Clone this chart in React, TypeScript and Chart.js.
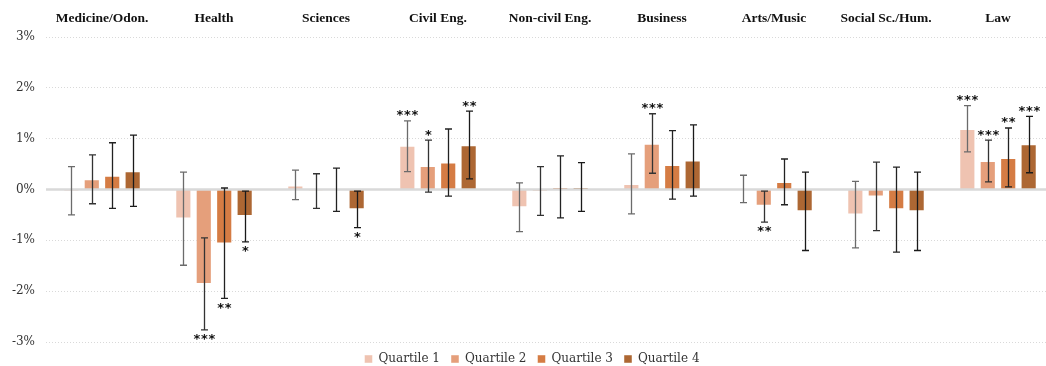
import React, { useEffect, useRef } from "react";
import { Chart, registerables } from "chart.js";

Chart.register(...registerables);

const categories = [
  "Medicine/Odon.",
  "Health",
  "Sciences",
  "Civil Eng.",
  "Non-civil Eng.",
  "Business",
  "Arts/Music",
  "Social Sc./Hum.",
  "Law",
];

const seriesNames = ["Quartile 1", "Quartile 2", "Quartile 3", "Quartile 4"];
const seriesColors = ["#efc3b1", "#e59f7b", "#d57c44", "#ad6733"];
const whiskerColors = ["#6b6b6b", "#333333", "#222222", "#1a1a1a"];

const q1 = [-0.03, -0.57, 0.08, 0.86, -0.35, 0.11, 0.0, -0.49, 1.19];
const q2 = [0.2, -1.86, -0.02, 0.46, -0.03, 0.9, -0.32, -0.14, 0.56];
const q3 = [0.27, -1.06, 0.0, 0.53, 0.05, 0.48, 0.15, -0.39, 0.62];
const q4 = [0.36, -0.52, -0.39, 0.87, 0.05, 0.57, -0.43, -0.43, 0.89];

const q1Hi = [0.45, 0.34, 0.38, 1.35, 0.13, 0.7, 0.28, 0.16, 1.65];
const q1Lo = [-0.5, -1.49, -0.2, 0.35, -0.83, -0.48, -0.26, -1.15, 0.74];
const q2Hi = [0.68, -0.95, 0.31, 0.97, 0.45, 1.49, -0.03, 0.54, 0.97];
const q2Lo = [-0.28, -2.76, -0.37, -0.05, -0.51, 0.32, -0.64, -0.81, 0.15];
const q3Hi = [0.92, 0.03, 0.42, 1.19, 0.66, 1.16, 0.6, 0.44, 1.21];
const q3Lo = [-0.37, -2.14, -0.43, -0.13, -0.56, -0.19, -0.3, -1.23, 0.05];
const q4Hi = [1.07, -0.03, -0.03, 1.54, 0.53, 1.27, 0.34, 0.34, 1.44];
const q4Lo = [-0.33, -1.03, -0.75, 0.21, -0.43, -0.13, -1.2, -1.2, 0.33];

const q1Sig = ["", "", "", "***", "", "", "", "", "***"];
const q2Sig = ["", "***", "", "*", "", "***", "**", "", "***"];
const q3Sig = ["", "**", "", "", "", "", "", "", "**"];
const q4Sig = ["", "*", "*", "**", "", "", "", "", "***"];

const yTicks = [-3, -2, -1, 0, 1, 2, 3];

const values = [q1, q2, q3, q4];
const highs = [q1Hi, q2Hi, q3Hi, q4Hi];
const lows = [q1Lo, q2Lo, q3Lo, q4Lo];
const sigs = [q1Sig, q2Sig, q3Sig, q4Sig];

const errorBarPlugin = {
  id: "errorBars",
  afterDatasetsDraw(chart: any) {
    const { ctx, chartArea } = chart;
    const y = chart.scales.y;
    const y0 = y.getPixelForValue(0);
    ctx.save();
    ctx.strokeStyle = "#d9d9d9";
    ctx.lineWidth = 2.5;
    ctx.beginPath();
    ctx.moveTo(chartArea.left, y0);
    ctx.lineTo(chartArea.right, y0);
    ctx.stroke();

    chart.data.datasets.forEach((ds: any, i: number) => {
      const meta = chart.getDatasetMeta(i);
      meta.data.forEach((bar: any, j: number) => {
        const x = Math.round(bar.x) + 0.5;
        const hi = y.getPixelForValue(highs[i][j]);
        const lo = y.getPixelForValue(lows[i][j]);
        ctx.strokeStyle = whiskerColors[i];
        ctx.lineWidth = 1.3;
        ctx.beginPath();
        ctx.moveTo(x, hi);
        ctx.lineTo(x, lo);
        ctx.moveTo(x - 3.5, hi);
        ctx.lineTo(x + 3.5, hi);
        ctx.moveTo(x - 3.5, lo);
        ctx.lineTo(x + 3.5, lo);
        ctx.stroke();
        const s = sigs[i][j];
        if (s) {
          ctx.fillStyle = "#111111";
          ctx.font = "bold 13px 'DejaVu Sans'";
          ctx.textAlign = "center";
          ctx.textBaseline = "middle";
          const n = s.length;
          const ty = values[i][j] >= 0 ? hi - 5 : lo + 10;
          for (let k = 0; k < n; k++) {
            ctx.fillText("*", x + (k - (n - 1) / 2) * 7.5, ty);
          }
        }
      });
    });
    ctx.restore();
  },
};

export default function App() {
  const ref = useRef<HTMLCanvasElement>(null);
  useEffect(() => {
    if (!ref.current) return;
    const chart = new Chart(ref.current, {
      type: "bar",
      data: {
        labels: categories,
        datasets: seriesNames.map((name, i) => ({
          label: name,
          data: values[i],
          backgroundColor: seriesColors[i],
          borderColor: "rgba(255,255,255,0.45)",
          borderWidth: 1,
          categoryPercentage: 0.73,
          barPercentage: 0.79,
        })),
      },
      options: {
        animation: false,
        responsive: false,
        maintainAspectRatio: false,
        layout: { padding: { left: 10, right: 20, top: 0, bottom: 0 } },
        plugins: {
          legend: {
            position: "bottom",
            maxHeight: 24,
            labels: {
              boxWidth: 8,
              boxHeight: 8,
              padding: 11,
              color: "#333333",
              font: { family: "'DejaVu Serif'", size: 12 },
            },
          },
          tooltip: { enabled: false },
        },
        scales: {
          x: {
            position: "top",
            grid: { display: false, drawTicks: false },
            border: { display: false },
            afterFit(scale: any) {
              scale.height = 37;
            },
            ticks: {
              color: "#111111",
              padding: 10,
              font: { family: "'Liberation Serif'", size: 13.5, weight: "bold" },
            },
          },
          y: {
            min: -3,
            max: 3,
            afterBuildTicks(scale: any) {
              scale.ticks = yTicks.map((v) => ({ value: v }));
            },
            afterFit(scale: any) {
              scale.width = 36;
            },
            grid: {
              drawTicks: false,
              color: (c: any) => (c.tick && c.tick.value === 0 ? "rgba(0,0,0,0)" : "#d9d9d9"),
              lineWidth: 1,
            },
            border: { display: false, dash: [1, 2] },
            ticks: {
              color: "#333333",
              padding: 11,
              font: { family: "'DejaVu Serif'", size: 12 },
              callback: (v: any) => `${v}%`,
            },
          },
        },
      },
      plugins: [errorBarPlugin],
    });
    return () => chart.destroy();
  }, []);
  return (
    <div
      style={{
        position: "fixed",
        left: 0,
        top: 0,
        width: 1046,
        height: 366,
        overflow: "hidden",
        background: "#ffffff",
      }}
    >
      <canvas ref={ref} width={1074} height={366} style={{ display: "block" }} />
    </div>
  );
}
